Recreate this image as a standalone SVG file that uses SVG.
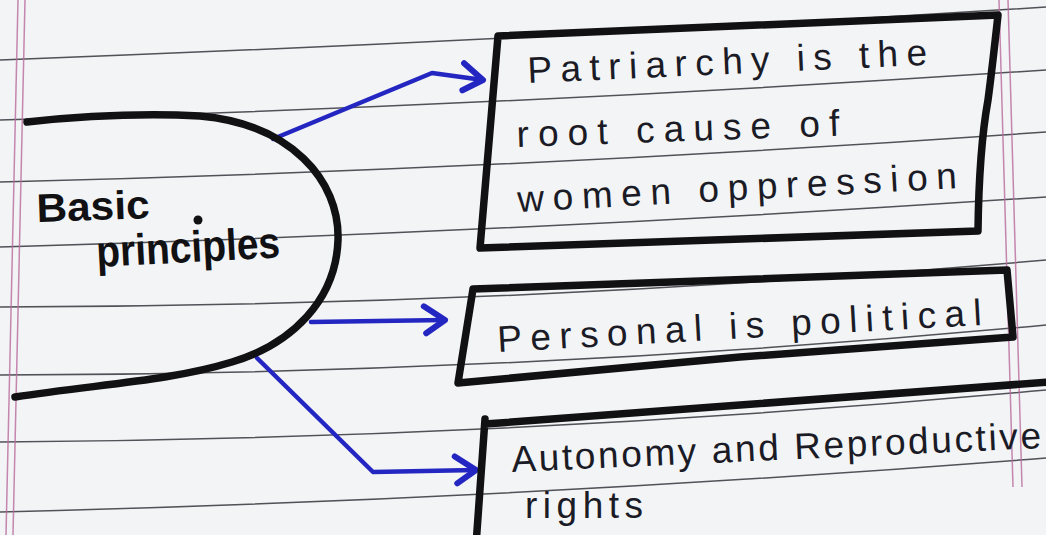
<svg xmlns="http://www.w3.org/2000/svg" width="1046" height="535" viewBox="0 0 1046 535">
  <style>
    .paper { fill: #f3f4f6; }
    .rule { fill: none; stroke: #34343c; stroke-width: 1.5; stroke-opacity: 0.85; }
    .margin { fill: none; stroke: #b96a9c; stroke-width: 1.5; stroke-opacity: 0.8; }
    .ink { fill: none; stroke: #111114; stroke-width: 7.5; stroke-linecap: round; stroke-linejoin: round; }
    .pen { font-family: "Liberation Sans", Arial, sans-serif; font-size: 37px; fill: #1b1b26; }
    .bold { font-family: "Liberation Sans", Arial, sans-serif; font-weight: 700; fill: #111114; }
    .conn { fill: none; stroke: #2426c2; stroke-width: 4.5; stroke-linecap: round; stroke-linejoin: round; }
    .head { fill: none; stroke: #2426c2; stroke-width: 6; stroke-linecap: round; stroke-linejoin: round; }
  </style>
  <defs>
    <marker id="arrow" markerUnits="userSpaceOnUse" markerWidth="30" markerHeight="40" refX="0" refY="0" orient="auto" overflow="visible">
      <path class="head" d="M-21,-14 L0,0 L-19,13"/>
    </marker>
  </defs>

  <rect class="paper" x="0" y="0" width="1046" height="535"/>

  <g id="ruled-paper">
    <path class="rule" d="M0,60 Q523,40.5 1046,7"/>
    <path class="rule" d="M0,120 Q523,105 1046,70"/>
    <path class="rule" d="M0,182 Q523,169 1046,132"/>
    <path class="rule" d="M0,247 Q523,232 1046,197"/>
    <path class="rule" d="M0,307 Q523,306 1046,260"/>
    <path class="rule" d="M0,375 Q523,374 1046,325"/>
    <path class="rule" d="M0,442 Q523,438 1046,390"/>
    <path class="rule" d="M0,512 Q523,499 1046,458"/>
    <path class="margin" d="M18,0 L6,535"/>
    <path class="margin" d="M25,0 L13,535"/>
    <path class="margin" d="M999,0 L1013,487"/>
    <path class="margin" d="M1008,0 L1022,487"/>
  </g>

  <g id="connectors">
    <path class="conn" d="M273,139 L432,73 L483,80" marker-end="url(#arrow)"/>
    <path class="conn" d="M311,322 L445,320" marker-end="url(#arrow)"/>
    <path class="conn" d="M257,358 L373,472 L476,470" marker-end="url(#arrow)"/>
  </g>

  <g id="node-basic-principles">
    <path class="ink" d="M27,122 Q120,112 200,116 C290,124 340,180 338,240 C336,300 292,344 232,362 C170,381 100,384 15,397"/>
    <text class="bold" x="37" y="222" font-size="40" textLength="113" lengthAdjust="spacingAndGlyphs" transform="rotate(-2 37 222)">Basic</text>
    <circle cx="198" cy="220" r="4.5" fill="#111114"/>
    <text class="bold" x="97" y="267" font-size="44" textLength="184" lengthAdjust="spacingAndGlyphs" transform="rotate(-3 97 267)">principles</text>
  </g>

  <g id="node-patriarchy">
    <path class="ink" d="M498,36 L998,15 Q992,70 988,100 Q979,150 978,231 L480,248 Z"/>
    <text class="pen" x="528" y="83" textLength="400" lengthAdjust="spacing" transform="rotate(-2.6 528 83)">Patriarchy is the</text>
    <text class="pen" x="517" y="147" textLength="323" lengthAdjust="spacing" transform="rotate(-2 517 147)">root cause of</text>
    <text class="pen" x="518" y="212" textLength="440" lengthAdjust="spacing" transform="rotate(-3.1 518 212)">women oppression</text>
  </g>

  <g id="node-personal">
    <path class="ink" d="M473,289 L1007,270 L1013,337 L740,357 L458,383 Z"/>
    <text class="pen" x="498" y="352" textLength="485" lengthAdjust="spacing" transform="rotate(-3.2 498 352)">Personal is political</text>
  </g>

  <g id="node-autonomy">
    <path class="ink" d="M476,545 L485,419 M485,424 L740,405 L1050,382"/>
    <text class="pen" x="512" y="472" textLength="530" lengthAdjust="spacing" transform="rotate(-2.6 512 472)">Autonomy and Reproductive</text>
    <text class="pen" x="525" y="518" textLength="118" lengthAdjust="spacing">rights</text>
  </g>
</svg>
